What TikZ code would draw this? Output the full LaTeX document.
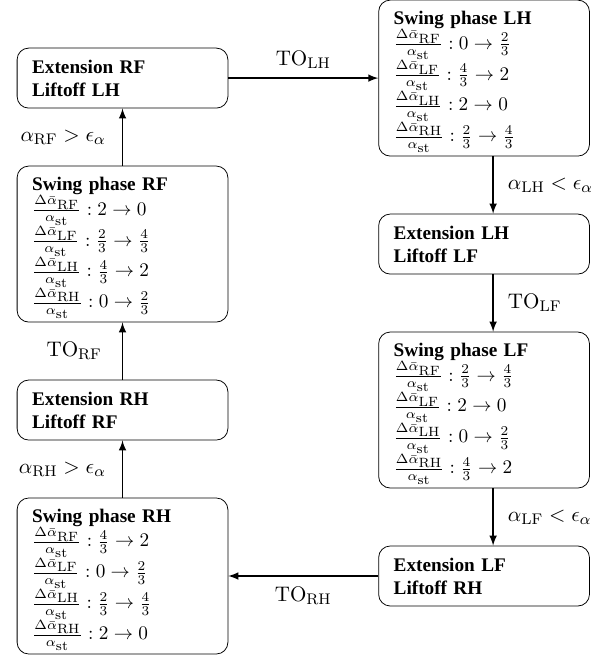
\documentclass[tikz,border=0pt]{standalone}
\usepackage[no-math]{fontspec}
\setmainfont{Liberation Serif}
\usetikzlibrary{shapes,arrows,positioning}
\tikzstyle{ext} = [rectangle, rounded corners=6pt, text width=94pt, inner xsep=7.8pt, minimum height=31.2pt, align=left, draw=black, font=\bfseries]
\tikzstyle{swing} = [ext, inner ysep=2pt, minimum height=78pt, font=\bfseries\setlength{\lineskip}{0.5pt}]
\tikzstyle{lbl} = [font=\fontsize{11}{13}\selectfont]
\newcommand{\dr}[1]{\frac{\Delta\bar{\alpha}_{\scriptstyle\mathrm{#1}}}{\alpha_{\scriptstyle\mathrm{st}}}}

\begin{document}
\begin{tikzpicture}[node distance = 86.3pt, >=latex]
		\useasboundingbox (0,0) rectangle (320.3pt,-341.1pt);
		\node[ext](extrf) at (63.7pt,-40.6pt){Extension RF\\Liftoff LH};
		\node[swing,below of=extrf](swrf){\rule{0pt}{10.5pt}Swing phase RF\\
			$\dr{RF} : 2 \rightarrow 0$\\
			$\dr{LF} : \frac{2}{3} \rightarrow \frac{4}{3}$\\
			$\dr{LH} : \frac{4}{3} \rightarrow 2$\\
			$\dr{RH} : 0 \rightarrow \frac{2}{3}$};
		\node[ext,below of=swrf](extrh){Extension RH\\Liftoff RF};
		\node[swing,below of=extrh](swrh){\rule{0pt}{10.5pt}Swing phase RH\\
			$\dr{RF} : \frac{4}{3} \rightarrow 2$\\
			$\dr{LF} : 0 \rightarrow \frac{2}{3}$\\
			$\dr{LH} : \frac{2}{3} \rightarrow \frac{4}{3}$\\
			$\dr{RH} : 2 \rightarrow 0$};
		\node[swing,right of=extrf, xshift=101.7pt](swlh){\rule{0pt}{10.5pt}Swing phase LH\\
			$\dr{RF} : 0 \rightarrow \frac{2}{3}$\\
			$\dr{LF} : \frac{4}{3} \rightarrow 2$\\
			$\dr{LH} : 2 \rightarrow 0$\\
			$\dr{RH} : \frac{2}{3} \rightarrow \frac{4}{3}$};
		\node[ext,below of=swlh](extlh){Extension LH\\Liftoff LF};
		\node[swing,below of=extlh](swlf){\rule{0pt}{10.5pt}Swing phase LF\\
			$\dr{RF} : \frac{2}{3} \rightarrow \frac{4}{3}$\\
			$\dr{LF} : 2 \rightarrow 0$\\
			$\dr{LH} : 0 \rightarrow \frac{2}{3}$\\
			$\dr{RH} : \frac{4}{3} \rightarrow 2$};
		\node[ext,below of=swlf](extlf){Extension LF\\Liftoff RH};
		
		\draw[->,thick](extrf)--(swlh) node[lbl,midway,above,yshift=1pt]{$\mathrm{TO}_{\mathrm{LH}}$};
		\draw[->,thick]([xshift=4.7pt]swlh.south)--([xshift=4.7pt]extlh.north) node[lbl,midway,right,xshift=4pt]{$\alpha_{\mathrm{LH}} < \epsilon_\alpha$};
		\draw[->,thick]([xshift=4.7pt]extlh.south)--([xshift=4.7pt]swlf.north) node[lbl,midway,right,xshift=4pt]{$\mathrm{TO}_{\mathrm{LF}}$};
		\draw[->,thick]([xshift=4.7pt]swlf.south)--([xshift=4.7pt]extlf.north) node[lbl,midway,right,xshift=4pt]{$\alpha_{\mathrm{LF}} < \epsilon_\alpha$};
		\draw[->,thick](extlf)--(swrh) node[lbl,midway,below,yshift=-2pt]{$\mathrm{TO}_{\mathrm{RH}}$};
		\draw[->,thick](swrh)--(extrh) node[lbl,midway,left,xshift=-5pt]{$\alpha_{\mathrm{RH}} > \epsilon_\alpha$};
		\draw[->,thick](extrh)--(swrf) node[lbl,midway,left,xshift=-7pt]{$\mathrm{TO}_{\mathrm{RF}}$};
		\draw[->,thick](swrf)--(extrf) node[lbl,midway,left,xshift=-5pt]{$\alpha_{\mathrm{RF}} > \epsilon_\alpha$};
	\end{tikzpicture}
\end{document}
